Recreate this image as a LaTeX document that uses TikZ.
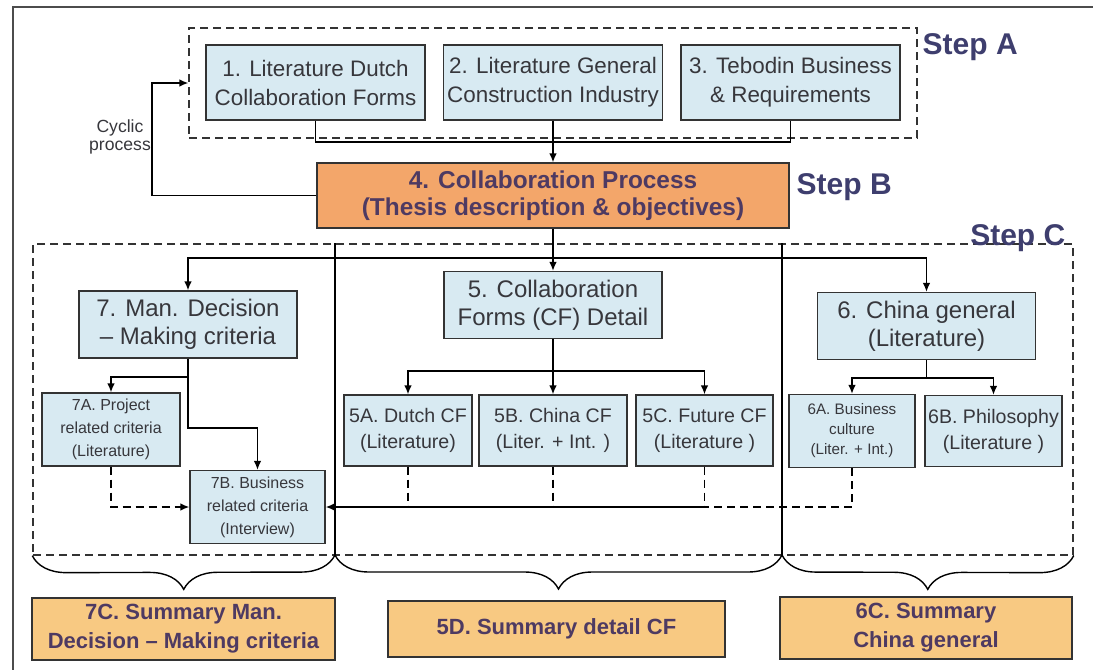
\documentclass[tikz,border=0pt]{standalone}
\usepackage{fontspec}
\setmainfont{Liberation Sans}
\usepackage{tikz}
\usetikzlibrary{arrows.meta,positioning,decorations.pathreplacing}
\usepackage{xcolor}
\definecolor{litblue}{RGB}{216,234,242}
\definecolor{procorange}{RGB}{243,166,106}
\definecolor{sumorange}{RGB}{248,201,130}
\definecolor{sumtext}{RGB}{78,58,98}
\definecolor{steptext}{RGB}{62,62,110}
\definecolor{boxtext}{RGB}{55,55,60}

\begin{document}
\begin{tikzpicture}[
    x=0.5pt,y=-0.5pt,>={Latex[length=4.5pt,width=3.8pt]},line width=0.7pt,
  lit/.style={draw=black!80,fill=litblue,text=boxtext,align=center,inner sep=1pt},
  litL/.style={lit,font=\fontsize{11.2}{14.5}\selectfont,minimum width=109.5pt,minimum height=37.5pt},
  litM/.style={lit,font=\fontsize{12}{14}\selectfont,minimum width=109pt,minimum height=33.5pt},
  litS/.style={lit,font=\fontsize{9.8}{13}\selectfont,minimum height=35.5pt},
  litXS/.style={lit,font=\fontsize{8}{11.5}\selectfont,minimum height=36.5pt},
  proc/.style={draw=black!80,fill=procorange,text=sumtext,align=center,
    font=\bfseries\fontsize{12.2}{13.5}\selectfont},
  sum/.style={draw=black!80,fill=sumorange,text=sumtext,align=center,minimum height=28pt,
    font=\bfseries\fontsize{11}{14.5}\selectfont},
  dashline/.style={dash pattern=on 4pt off 2.5pt},
  grp/.style={draw=black!80,dashline},
  steplbl/.style={text=steptext,font=\bfseries\fontsize{15}{15}\selectfont,inner sep=0pt},
  brc/.style={decorate,decoration={brace,mirror,amplitude=17pt}},
]
  \useasboundingbox (0,0) rectangle (1100,670);
  \draw[line width=1pt,black!70] (13,670) -- (13,7) -- (1093,7);

  \node[grp,minimum width=364pt,minimum height=55pt] (A) at (553,83) {};
  \node[grp,minimum width=520pt,minimum height=155.5pt] (C) at (553,399.5) {};

  \node[litL] (1) at (315.5,82.5) {1. Literature Dutch\\Collaboration Forms};
  \node[litL] (2) at (553,82.5) {2. Literature General\\Construction Industry};
  \node[litL] (3) at (790.5,82.5) {3. Tebodin Business\\\& Requirements};
  \node[proc,minimum width=236pt,minimum height=32.5pt] (4) at (553,195.5)
    {4. Collaboration Process\\(Thesis description \& objectives)};

  \node[steplbl,anchor=base west] (sA) at (922,54) {Step A};
  \node[steplbl,anchor=base west] (sB) at (796,194) {Step B};
  \node[steplbl,anchor=base east] (sC) at (1066,245) {Step C};
  \node[text=boxtext,align=center,font=\fontsize{8.8}{9}\selectfont] (cyc) at (120,137)
    {Cyclic\\process};

  \node[litM] (7) at (188,324.5) {7. Man. Decision\\-- Making criteria};
  \node[litM] (5) at (553,305) {5. Collaboration\\Forms (CF) Detail};
  \node[litM] (6) at (926.5,326) {6. China general\\(Literature)};

  \node[litXS,minimum width=69pt] (7A) at (111,429.5) {7A. Project\\related criteria\\(Literature)};
  \node[litXS,minimum width=67.5pt] (7B) at (257.5,507) {7B. Business\\related criteria\\(Interview)};
  \node[litS,minimum width=64pt] (5A) at (408,430.5) {5A. Dutch CF\\(Literature)};
  \node[litS,minimum width=74pt] (5B) at (553,430.5) {5B. China CF\\(Liter. + Int. )};
  \node[litS,minimum width=68.5pt] (5C) at (704.5,430.5) {5C. Future CF\\(Literature )};
  \node[litXS,minimum width=63pt,font=\fontsize{7.6}{10}\selectfont] (6A) at (852,431)
    {6A. Business\\culture\\(Liter. + Int.)};
  \node[litS,minimum width=68.5pt] (6B) at (993.5,431) {6B. Philosophy\\(Literature )};

  \node[sum,minimum width=151.5pt] (7C) at (183.5,629) {7C. Summary Man.\\Decision -- Making criteria};
  \node[sum,minimum width=168.5pt] (5D) at (556.5,629) {5D. Summary detail CF};
  \node[sum,minimum width=146pt] (6C) at (926,628) {6C. Summary\\China general};

  \coordinate (topbus) at (553,142);
  \coordinate (loop) at (152,83);
  \coordinate (cbus) at (553,258);
  \coordinate (7j) at (188,377);
  \coordinate (7k) at (188,428);
  \coordinate (5j) at (553,371);
  \coordinate (6j) at (926.5,378);
  \coordinate (d1) at (335,555);
  \coordinate (d2) at (782,555);

  \draw (1.south) |- (topbus) -| (3.south);
  \draw[->] (2.south) -- (4.north);
  \draw[->] (4.west) -| (loop) -- (A.west);

  \draw (4.south) -- (cbus);
  \draw[->] (cbus) -| (7.north);
  \draw[->] (cbus) -- (5.north);
  \draw[->] (cbus) -| (6.north);

  \draw (d1) -- (d1 |- C.north);
  \draw (d2) -- (d2 |- C.north);

  \draw (7.south) -- (7j);
  \draw[->] (7j) -| (7A.north);
  \draw[->] (7j) -- (7k) -| (7B.north);

  \draw (5.south) -- (5j);
  \draw[->] (5j) -| (5A.north);
  \draw[->] (5j) -- (5B.north);
  \draw[->] (5j) -| (5C.north);

  \draw (6.south) -- (6j);
  \draw[->] (6j) -| (6A.north);
  \draw[->] (6j) -| (6B.north);

  \draw[dashline] (5A.south) -- (5A.south |- 7B.east);
  \draw[dashline] (5B.south) -- (5B.south |- 7B.east);
  \draw[dashline] (5C.south) -- (5C.south |- 7B.east);
  \draw[dashline] (6A.south) |- (5C.south |- 7B.east);
  \draw[->] (5C.south |- 7B.east) -- (7B.east);
  \draw[->,dashline] (7A.south) |- (7B.west);

  \draw[brc] (C.south west) -- (d1);
  \draw[brc] (d1) -- (d2);
  \draw[brc] (d2) -- (C.south east);
\end{tikzpicture}
\end{document}
